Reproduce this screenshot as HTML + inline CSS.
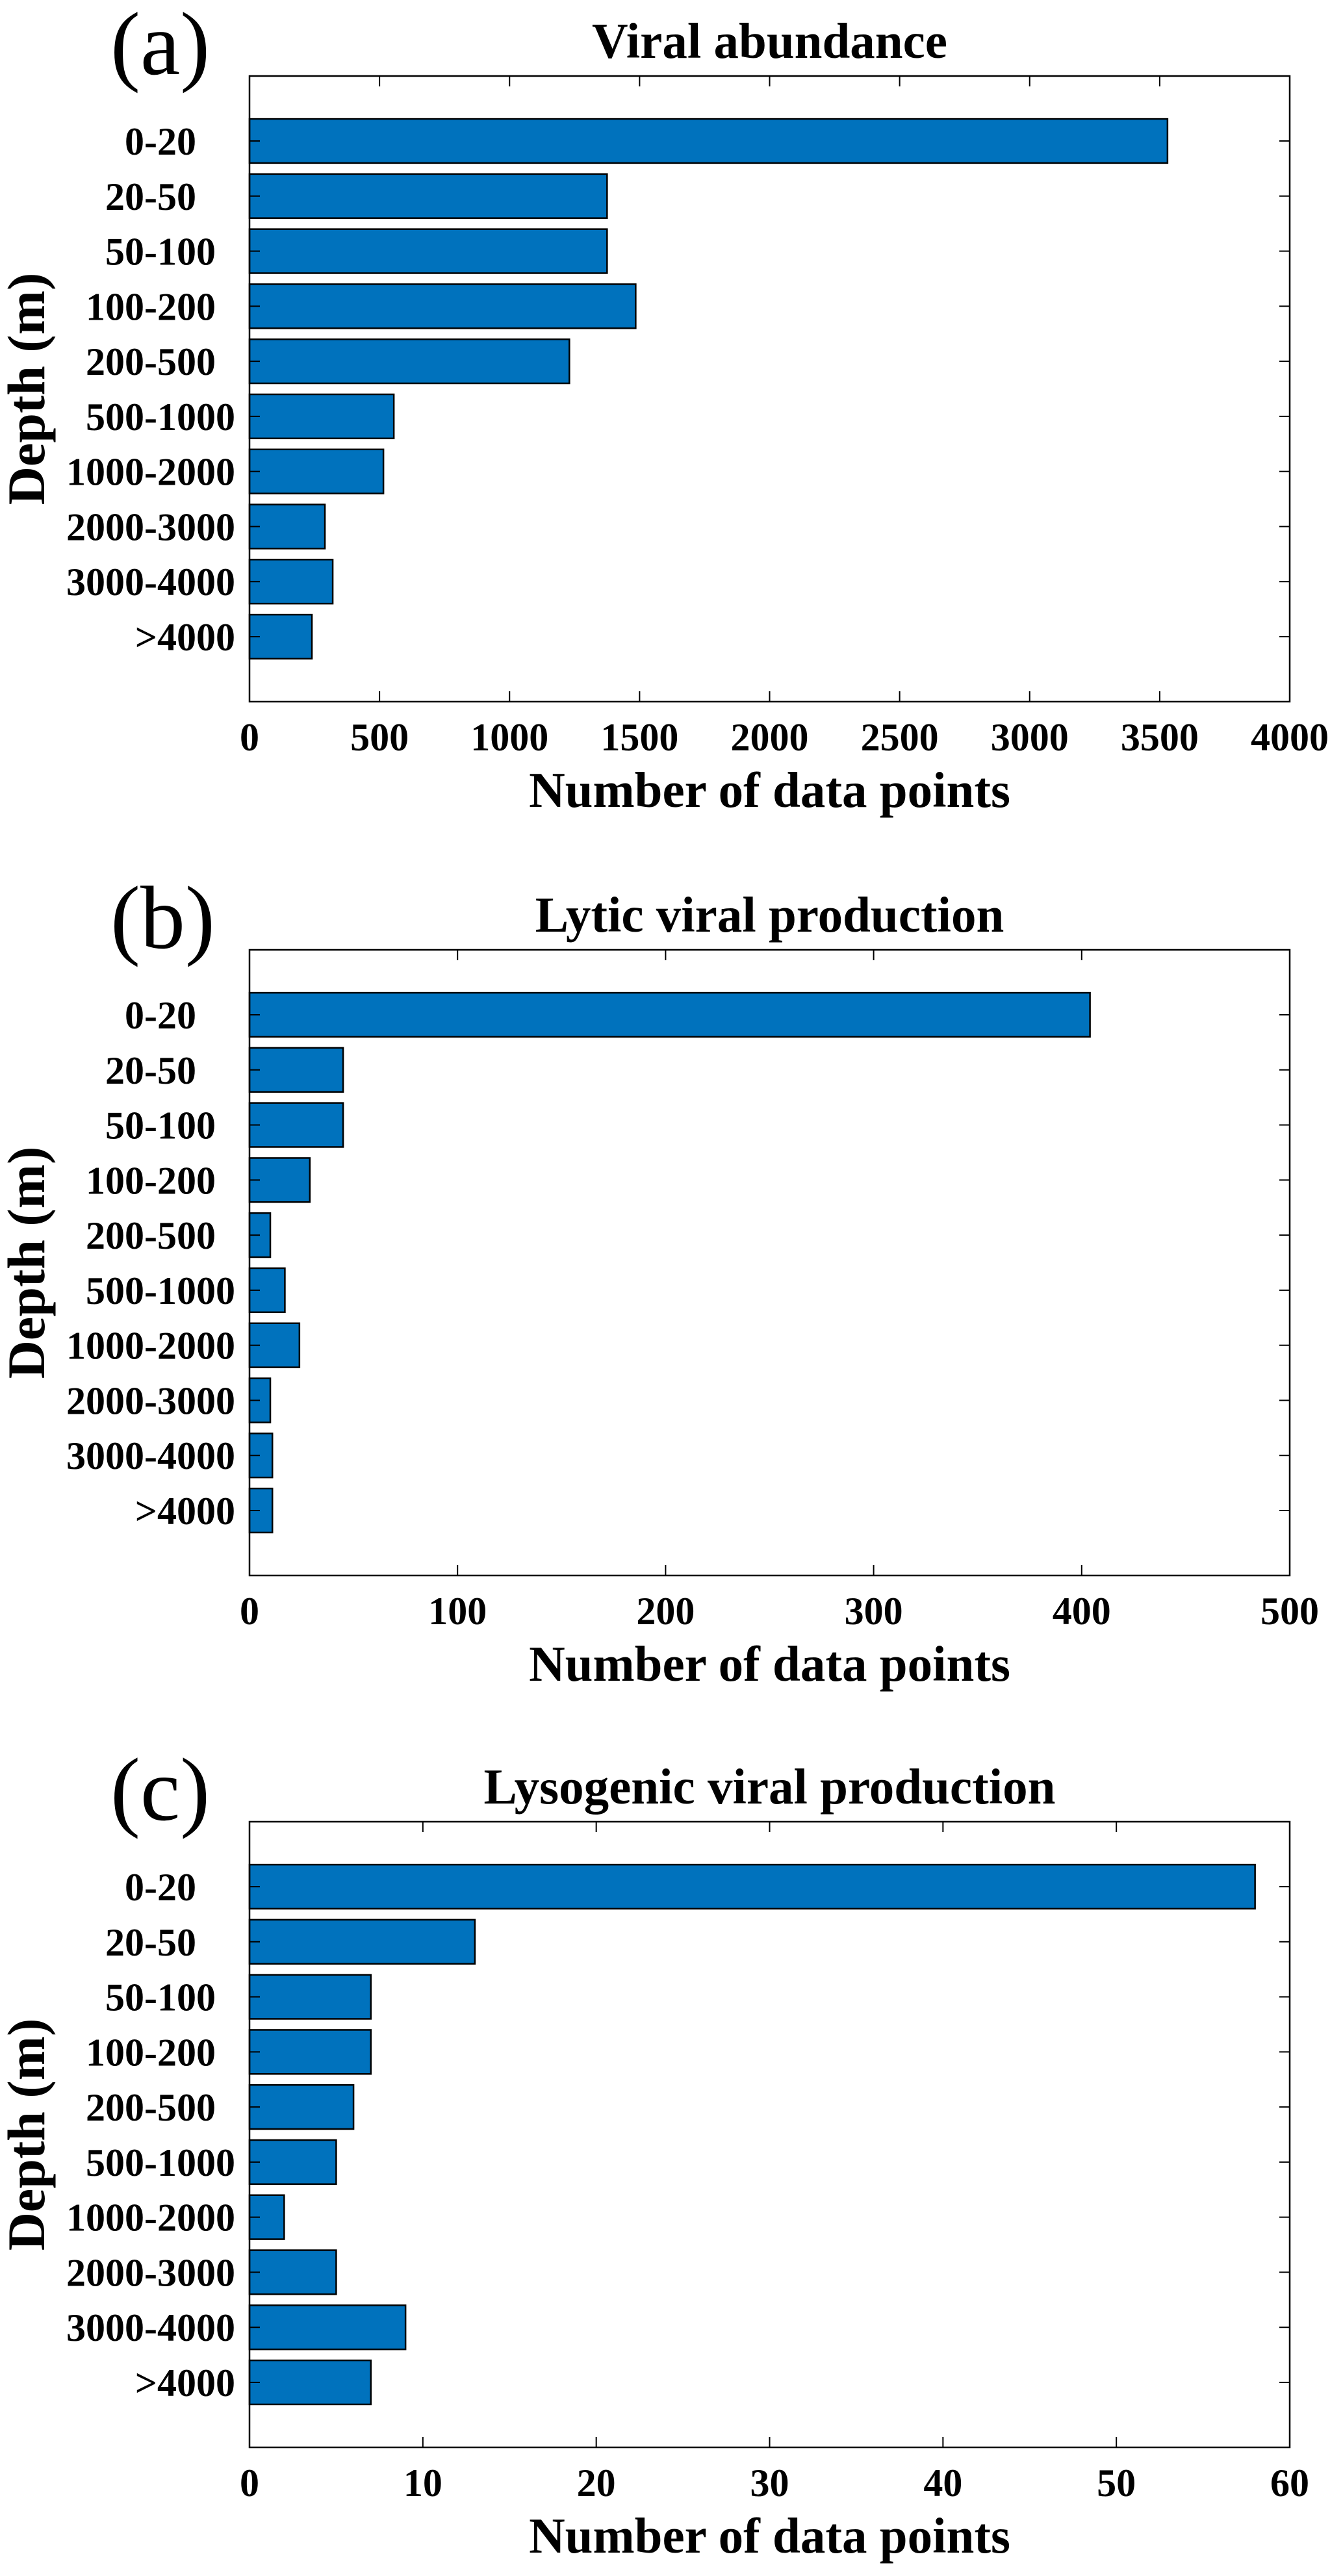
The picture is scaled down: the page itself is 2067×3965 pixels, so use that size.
<!DOCTYPE html>
<html>
<head>
<meta charset="utf-8">
<style>
  html, body { margin: 0; padding: 0; background: #fff; }
  svg { display: block; }
  text { font-family: "Liberation Serif", "Times New Roman", serif; fill: #000; }
</style>
</head>
<body>
<svg id="fig" xmlns="http://www.w3.org/2000/svg" width="2067" height="3965" viewBox="0 0 2067 3965"></svg>
<script>
const categories = ["0-20", "20-50", "50-100", "100-200", "200-500", "500-1000", "1000-2000", "2000-3000", "3000-4000", ">4000"];
const labelPad = [4, 4, 2, 2, 2, 0, 0, 0, 0, 0];
const valuesA = [3530, 1375, 1375, 1485, 1230, 555, 515, 290, 320, 240];
const valuesB = [404, 45, 45, 29, 10, 17, 24, 10, 11, 11];
const valuesC = [58, 13, 7, 7, 6, 5, 2, 5, 9, 7];
const ticksA = [0, 500, 1000, 1500, 2000, 2500, 3000, 3500, 4000];
const ticksB = [0, 100, 200, 300, 400, 500];
const ticksC = [0, 10, 20, 30, 40, 50, 60];
const panelLetters = ["(a)", "(b)", "(c)"];
const panelTitles = ["Viral abundance", "Lytic viral production", "Lysogenic viral production"];

const NS = "http://www.w3.org/2000/svg";
const svg = document.getElementById("fig");
function mk(tag, attrs, parent) {
  const e = document.createElementNS(NS, tag);
  for (const k in attrs) e.setAttribute(k, attrs[k]);
  (parent || svg).appendChild(e);
  return e;
}

const X0 = 384, X1 = 1985, TOPOFF = 117, H = 963;
const offsets = [0, 1345, 2687];
const panels = [
  { vals: valuesA, ticks: ticksA },
  { vals: valuesB, ticks: ticksB },
  { vals: valuesC, ticks: ticksC }
];
const slug = ["a", "b", "c"];

panels.forEach((p, pi) => {
  const off = offsets[pi];
  const top = TOPOFF + off, bot = top + H;
  const xmin = p.ticks[0], xmax = p.ticks[p.ticks.length - 1];
  const xs = v => X0 + (v - xmin) / (xmax - xmin) * (X1 - X0);
  const pitch = (H - 200) / (categories.length - 1);
  const ys = i => top + 100 + i * pitch;
  const barH = pitch * 0.8;

  const g = mk("g", {});
  
  

  const letter = mk("text", { x: 170, y: 114 + off, "font-size": 138 }, g);
  letter.textContent = panelLetters[pi];
  
  

  const title = mk("text", { x: (X0 + X1) / 2, y: 89 + off, "font-size": 77, "font-weight": "bold", "text-anchor": "middle" }, g);
  title.textContent = panelTitles[pi];
  
  

  p.vals.forEach((v, i) => {
    const r = mk("rect", { x: xs(0), y: ys(i) - barH / 2, width: xs(v) - xs(0), height: barH, fill: "#0072BD", stroke: "#000", "stroke-width": 2.5 }, g);
    
    
  });

  const fr = mk("rect", { x: X0, y: top, width: X1 - X0, height: H, fill: "none", stroke: "#000", "stroke-width": 2.5 }, g);
  
  

  categories.forEach((c, i) => {
    const y = ys(i);
    mk("line", { x1: X0, y1: y, x2: X0 + 16, y2: y, stroke: "#000", "stroke-width": 2 }, g);
    mk("line", { x1: X1, y1: y, x2: X1 - 16, y2: y, stroke: "#000", "stroke-width": 2 }, g);
    const t = mk("text", { x: 362 - labelPad[i] * 15, y: y + 21, "font-size": 60, "font-weight": "bold", "text-anchor": "end" }, g);
    t.textContent = c;
    
    
  });

  p.ticks.forEach(v => {
    const x = xs(v);
    mk("line", { x1: x, y1: bot, x2: x, y2: bot - 16, stroke: "#000", "stroke-width": 2 }, g);
    mk("line", { x1: x, y1: top, x2: x, y2: top + 16, stroke: "#000", "stroke-width": 2 }, g);
    const t = mk("text", { x: x, y: 1155 + off, "font-size": 60, "font-weight": "bold", "text-anchor": "middle" }, g);
    t.textContent = String(v);
    
    
  });

  const xl = mk("text", { x: (X0 + X1) / 2, y: 1242 + off, "font-size": 77, "font-weight": "bold", "text-anchor": "middle" }, g);
  xl.textContent = "Number of data points";
  
  

  const yc = (top + bot) / 2;
  const yl = mk("text", { x: 0, y: 0, "font-size": 82, "font-weight": "bold", "text-anchor": "middle", transform: "translate(68," + yc + ") rotate(-90)" }, g);
  yl.textContent = "Depth (m)";
  
  
});
</script>
</body>
</html>
